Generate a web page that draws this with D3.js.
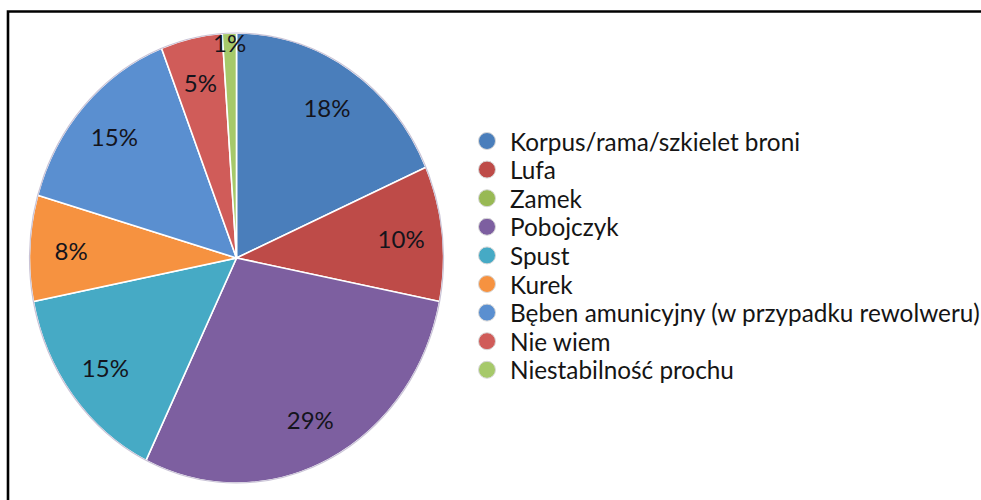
<!DOCTYPE html>
<html>
<head>
<meta charset="utf-8">
<script src="https://cdn.jsdelivr.net/npm/d3@7"></script>
<style>
  html, body { margin: 0; padding: 0; background: #fff; }
  svg { display: block; }
  text { font-family: Lato, "Open Sans", sans-serif; }
</style>
</head>
<body>
<svg id="chart" width="981" height="500"></svg>
<script>
// Which part of the firearm failed (share of answers, %)
const categories = [
  "Korpus/rama/szkielet broni",
  "Lufa",
  "Zamek",
  "Pobojczyk",
  "Spust",
  "Kurek",
  "Bęben amunicyjny (w przypadku rewolweru)",
  "Nie wiem",
  "Niestabilność prochu"
];
const values = [18.4, 9.7, 0, 29.1, 14.7, 7.6, 14.6, 4.8, 1.1];
const colors = [
  "#4A7EBB", "#BE4B48", "#98B954", "#7D5FA0", "#46AAC5",
  "#F69240", "#5A8FD0", "#D05C59", "#A6C96A"
];

const data = categories.map((c, i) => ({ name: c, value: values[i], color: colors[i] }));
const total = d3.sum(values);

const svg = d3.select("#chart");

// Outer frame (top and left edges fall inside the canvas)
svg.append("path")
  .attr("d", "M8,500 V11.5 H981")
  .attr("fill", "none")
  .attr("stroke", "#000")
  .attr("stroke-width", 2.6);

// Pie: drawn as a circle, then stretched slightly vertically
const cx = 236.5, cy = 258, rx = 207, ry = 225;
const pie = d3.pie().sort(null).value(d => d.value).startAngle(0).endAngle(2 * Math.PI);
const arcs = pie(data);
const arc = d3.arc().innerRadius(0).outerRadius(rx);

const g = svg.append("g")
  .attr("transform", `translate(${cx},${cy}) scale(1,${ry / rx})`);

g.selectAll("path.slice")
  .data(arcs.filter(a => a.data.value > 0))
  .join("path")
  .attr("class", "slice")
  .attr("d", arc)
  .attr("fill", d => d.data.color)
  .attr("stroke", "#fff")
  .attr("stroke-width", 1.6)
  .attr("vector-effect", "non-scaling-stroke");

// thin soft rim around the pie
g.append("circle")
  .attr("r", rx)
  .attr("fill", "none")
  .attr("stroke", "#c9c3d6")
  .attr("stroke-width", 1.2)
  .attr("vector-effect", "non-scaling-stroke");

// Percentage labels
const labelArcNormal = d3.arc().innerRadius(rx * 0.8).outerRadius(rx * 0.8);
const labelArcEdge = d3.arc().innerRadius(rx * 0.96).outerRadius(rx * 0.96);
svg.append("g")
  .selectAll("text")
  .data(arcs.filter(a => a.data.value > 0))
  .join("text")
  .attr("transform", d => {
    const small = (d.endAngle - d.startAngle) < 0.15;
    const [x, y] = (small ? labelArcEdge : labelArcNormal).centroid(d);
    return `translate(${cx + x},${cy + y * ry / rx})`;
  })
  .attr("text-anchor", "middle")
  .attr("dominant-baseline", "central")
  .attr("font-size", 24)
  .attr("fill", "#14141c")
  .text(d => Math.round(d.data.value / total * 100) + "%");

// Legend
const legendX = 487, legendY0 = 141, legendStep = 28.6;
const legend = svg.append("g");
const rows = legend.selectAll("g")
  .data(data)
  .join("g")
  .attr("transform", (d, i) => `translate(${legendX},${legendY0 + i * legendStep})`);

rows.append("circle")
  .attr("r", 8.5)
  .attr("fill", d => d.color)
  .attr("stroke", "#d8d8d8")
  .attr("stroke-width", 1);

const labels = rows.append("text")
  .attr("x", 23)
  .attr("dominant-baseline", "central")
  .attr("font-size", 22)
  .attr("fill", "#151515")
  .text(d => d.name);

// size the legend text so the longest entry spans the legend width
const longest = d3.max(labels.nodes(), n => n.getComputedTextLength());
const fitted = 22 * 470 / longest;
labels.attr("font-size", fitted);
</script>
</body>
</html>
